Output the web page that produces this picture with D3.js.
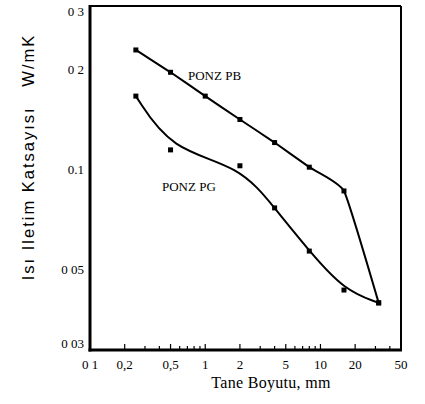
<!DOCTYPE html>
<html>
<head>
<meta charset="utf-8">
<script src="https://cdn.jsdelivr.net/npm/d3@7"></script>
<style>
  body { margin: 0; background: #fff; }
  svg { display: block; }
</style>
</head>
<body>
<div id="chart"></div>
<script>
const width = 425;
const height = 404;

// grain size, mm
const pbSize = [0.25, 0.5, 1, 2, 4, 8, 16, 32];
const pbK = [0.23, 0.197, 0.167, 0.142, 0.121, 0.102, 0.0865, 0.0398];
const pgSize = [0.25, 0.5, 2, 4, 8, 16, 32];
const pgK = [0.167, 0.115, 0.103, 0.0769, 0.057, 0.0435, 0.0398];

const xTicks = [0.1, 0.2, 0.5, 1, 2, 5, 10, 20, 50];
const xTickLabels = ["0 1", "0,2", "0,5", "1", "2", "5", "10", "20", "50"];
const yTicks = [0.03, 0.05, 0.1, 0.2, 0.3];
const yTickLabels = ["0 03", "0 05", "0.1", "0 2", "0 3"];

const plot = { left: 90, right: 401, top: 6, bottom: 350 };

const x = d3.scaleLog().domain([0.1, 50]).range([plot.left, plot.right]);
const y = d3.scaleLog().domain([0.0287, 0.312]).range([plot.bottom, plot.top]);

const svg = d3.select("#chart").append("svg")
  .attr("width", width)
  .attr("height", height);

// frame
svg.append("line")
  .attr("x1", plot.left).attr("x2", plot.right)
  .attr("y1", plot.top).attr("y2", plot.top)
  .attr("stroke", "#000").attr("stroke-width", 2);
svg.append("line")
  .attr("x1", plot.right).attr("x2", plot.right)
  .attr("y1", plot.top).attr("y2", plot.bottom)
  .attr("stroke", "#000").attr("stroke-width", 2);
svg.append("line")
  .attr("x1", plot.left).attr("x2", plot.left)
  .attr("y1", plot.top - 1).attr("y2", plot.bottom + 1.5)
  .attr("stroke", "#000").attr("stroke-width", 3);
svg.append("line")
  .attr("x1", plot.left - 1.5).attr("x2", plot.right + 1)
  .attr("y1", plot.bottom).attr("y2", plot.bottom)
  .attr("stroke", "#000").attr("stroke-width", 3);

// minor ticks on the x axis, pointing inward
const minor = [];
for (let d = 0.1; d < 50; d *= 10) {
  for (let m = 1; m < 10; m++) {
    const v = d * m;
    if (v > 0.1 && v < 50) minor.push(v);
  }
}
svg.append("g")
  .selectAll("line")
  .data(minor)
  .join("line")
  .attr("x1", d => x(d)).attr("x2", d => x(d))
  .attr("y1", plot.bottom).attr("y2", d => xTicks.includes(+d.toPrecision(3)) ? plot.bottom - 6 : plot.bottom - 4)
  .attr("stroke", "#000")
  .attr("stroke-width", 1.2);

// tick labels
const tickFont = "'Liberation Serif', 'DejaVu Serif', serif";

svg.append("g")
  .attr("font-family", tickFont)
  .attr("font-size", 13)
  .attr("text-anchor", "middle")
  .selectAll("text")
  .data(xTicks)
  .join("text")
  .attr("x", d => x(d))
  .attr("y", plot.bottom + 19)
  .text((d, i) => xTickLabels[i]);

svg.append("g")
  .attr("font-family", tickFont)
  .attr("font-size", 13)
  .attr("text-anchor", "end")
  .selectAll("text")
  .data(yTicks)
  .join("text")
  .attr("x", plot.left - 6)
  .attr("y", d => y(d) + 4)
  .text((d, i) => yTickLabels[i]);

// axis titles
svg.append("text")
  .attr("x", 271)
  .attr("y", 388)
  .attr("text-anchor", "middle")
  .attr("font-family", tickFont)
  .attr("font-size", 16)
  .attr("letter-spacing", 0.3)
  .text("Tane Boyutu, mm");

svg.append("text")
  .attr("transform", "translate(34,157) rotate(-90)")
  .attr("text-anchor", "middle")
  .attr("font-family", "'Liberation Sans', Arial, sans-serif")
  .attr("font-size", 16.5)
  .attr("letter-spacing", 2)
  .attr("xml:space", "preserve")
  .style("white-space", "pre")
  .text("Isı Iletim Katsayısı   W/mK");

// series: PB is almost straight with a rounded knee, PG is hand-smoothed
const series = [
  { name: "PONZ PB", pts: pbSize.map((s, i) => [s, pbK[i]]), curve: d3.curveCardinal.tension(0.6) },
  { name: "PONZ PG", pts: pgSize.map((s, i) => [s, pgK[i]]), curve: d3.curveBasis }
];

series.forEach(s => {
  const line = d3.line()
    .x(d => x(d[0]))
    .y(d => y(d[1]))
    .curve(s.curve);

  svg.append("path")
    .datum(s.pts)
    .attr("fill", "none")
    .attr("stroke", "#000")
    .attr("stroke-width", 2)
    .attr("d", line);

  svg.append("g")
    .selectAll("rect")
    .data(s.pts)
    .join("rect")
    .attr("x", d => x(d[0]) - 2.5)
    .attr("y", d => y(d[1]) - 2.5)
    .attr("width", 5)
    .attr("height", 5)
    .attr("fill", "#000");
});

// series labels
svg.append("text")
  .attr("x", 188)
  .attr("y", 80)
  .attr("font-family", tickFont)
  .attr("font-size", 13)
  .text("PONZ PB");

svg.append("text")
  .attr("x", 162)
  .attr("y", 191)
  .attr("font-family", tickFont)
  .attr("font-size", 13)
  .text("PONZ PG");
</script>
</body>
</html>
